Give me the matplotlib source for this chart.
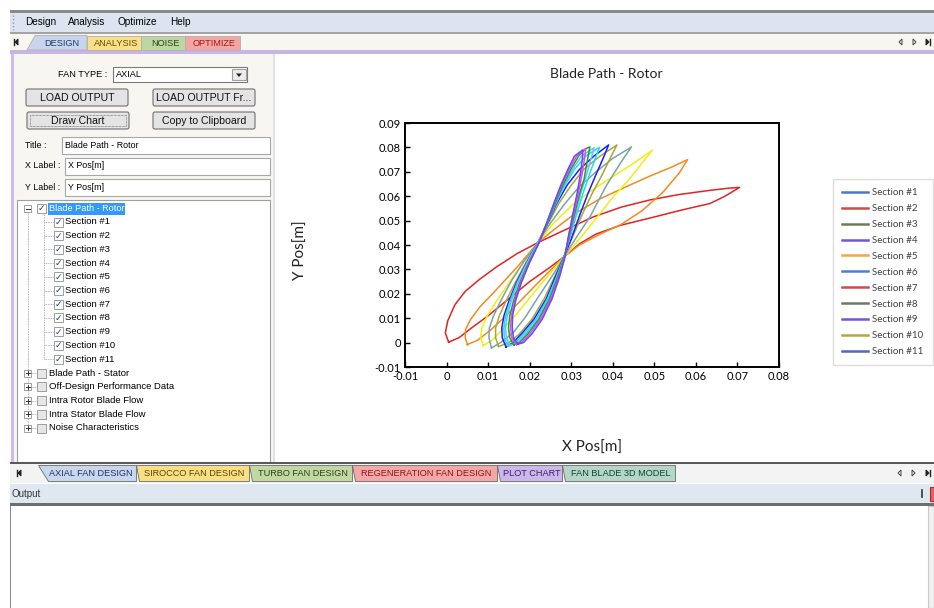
import numpy as np
import matplotlib.pyplot as plt
from matplotlib.patches import Rectangle, FancyBboxPatch, Polygon
from matplotlib.lines import Line2D

# Blade path loops, one per section (x, y in metres)
s1_x = [0.0005, -0.0003, 0.0003, 0.002, 0.0045, 0.008, 0.012, 0.017, 0.022, 0.028, 0.0353, 0.042, 0.049, 0.056, 0.0634, 0.068, 0.0705,
        0.067, 0.0634, 0.057, 0.050, 0.0417, 0.036, 0.032, 0.0285, 0.025, 0.020, 0.015, 0.010, 0.006, 0.003, 0.0005]
s1_y = [0.0002, 0.004, 0.009, 0.0155, 0.021, 0.026, 0.031, 0.0365, 0.041, 0.0458, 0.0515, 0.0555, 0.0585, 0.0607, 0.0624, 0.0633, 0.0636,
        0.0600, 0.057, 0.0545, 0.0515, 0.048, 0.0445, 0.0405, 0.0355, 0.031, 0.025, 0.018, 0.011, 0.006, 0.002, 0.0002]
s2_x = [0.005, 0.0045, 0.0046, 0.0058, 0.008, 0.0105, 0.0135, 0.017, 0.0195, 0.022, 0.026, 0.031, 0.037, 0.043, 0.049, 0.054, 0.058,
        0.056, 0.052, 0.047, 0.042, 0.037, 0.032, 0.0285, 0.0255, 0.022, 0.018, 0.014, 0.0105, 0.0075, 0.005]
s2_y = [-0.0008, 0.002, 0.0055, 0.0095, 0.0146, 0.019, 0.0245, 0.031, 0.036, 0.041, 0.0465, 0.053, 0.059, 0.0637, 0.0683, 0.0718, 0.075,
        0.0695, 0.0615, 0.054, 0.0484, 0.0445, 0.040, 0.0355, 0.0305, 0.0245, 0.0175, 0.0105, 0.005, 0.001, -0.0008]
s3_x = [0.0088, 0.0082, 0.0085, 0.0098, 0.012, 0.015, 0.0185, 0.022, 0.0255, 0.030, 0.035, 0.040, 0.045, 0.0495,
        0.047, 0.044, 0.040, 0.0365, 0.033, 0.0302, 0.0282, 0.025, 0.021, 0.017, 0.0135, 0.011, 0.0088]
s3_y = [-0.0012, 0.002, 0.006, 0.011, 0.017, 0.0245, 0.033, 0.041, 0.0485, 0.056, 0.0625, 0.068, 0.0735, 0.0788,
        0.0735, 0.067, 0.0595, 0.052, 0.0445, 0.039, 0.035, 0.0285, 0.0205, 0.012, 0.0055, 0.001, -0.0012]
s4_x = [0.0108, 0.0102, 0.0103, 0.0113, 0.013, 0.0155, 0.0185, 0.022, 0.025, 0.0285, 0.032, 0.036, 0.040, 0.0445,
        0.042, 0.0385, 0.0345, 0.031, 0.0282, 0.0255, 0.022, 0.019, 0.016, 0.013, 0.0108]
s4_y = [-0.0022, 0.002, 0.006, 0.011, 0.017, 0.025, 0.033, 0.041, 0.049, 0.057, 0.064, 0.070, 0.0755, 0.0802,
        0.074, 0.0645, 0.0515, 0.0425, 0.035, 0.0275, 0.0185, 0.0105, 0.004, 0.0, -0.0022]
s5_x = [0.0125, 0.0118, 0.0118, 0.0127, 0.0143, 0.0165, 0.019, 0.022, 0.0245, 0.027, 0.030, 0.033, 0.037, 0.041,
        0.0395, 0.0375, 0.035, 0.0325, 0.030, 0.0282, 0.026, 0.0235, 0.0205, 0.0175, 0.015, 0.0125]
s5_y = [-0.0016, 0.002, 0.006, 0.011, 0.017, 0.0245, 0.0325, 0.041, 0.049, 0.057, 0.0645, 0.071, 0.0765, 0.081,
        0.076, 0.069, 0.061, 0.052, 0.042, 0.035, 0.027, 0.018, 0.0095, 0.0035, 0.0, -0.0016]
s6_x = [0.0143, 0.0134, 0.0133, 0.0138, 0.015, 0.0168, 0.0192, 0.022, 0.0243, 0.0265, 0.029, 0.032, 0.0355, 0.039,
        0.0378, 0.036, 0.034, 0.032, 0.030, 0.0282, 0.0262, 0.024, 0.021, 0.018, 0.016, 0.0143]
s6_y = [-0.0018, 0.002, 0.006, 0.011, 0.017, 0.0245, 0.0325, 0.041, 0.049, 0.057, 0.0645, 0.071, 0.0765, 0.081,
        0.076, 0.069, 0.061, 0.052, 0.0425, 0.035, 0.027, 0.018, 0.0095, 0.0035, 0.0, -0.0018]
s7_x = [0.0148, 0.0139, 0.0138, 0.0142, 0.0153, 0.017, 0.0193, 0.022, 0.0242, 0.0263, 0.0285, 0.0308, 0.0335, 0.0368,
        0.0358, 0.0344, 0.0328, 0.0312, 0.0296, 0.0282, 0.0265, 0.0243, 0.0215, 0.0185, 0.0165, 0.0148]
s7_y = [-0.0015, 0.002, 0.006, 0.011, 0.017, 0.0245, 0.0325, 0.041, 0.049, 0.057, 0.0645, 0.071, 0.0765, 0.080,
        0.0755, 0.069, 0.061, 0.052, 0.0425, 0.035, 0.027, 0.018, 0.0095, 0.0035, 0.0, -0.0015]
s8_x = [0.0153, 0.0144, 0.0142, 0.0146, 0.0156, 0.0172, 0.0194, 0.0221, 0.0242, 0.0262, 0.0283, 0.0303, 0.0325, 0.0355,
        0.0348, 0.0337, 0.0323, 0.0309, 0.0295, 0.0283, 0.0267, 0.0246, 0.0219, 0.019, 0.017, 0.0153]
s8_y = [-0.0012, 0.002, 0.006, 0.011, 0.017, 0.0245, 0.0325, 0.041, 0.049, 0.057, 0.0645, 0.071, 0.0765, 0.0798,
        0.0755, 0.069, 0.061, 0.052, 0.0425, 0.035, 0.027, 0.018, 0.0095, 0.0035, 0.0, -0.0012]
s9_x = [0.0162, 0.0152, 0.0149, 0.0152, 0.0161, 0.0176, 0.0197, 0.0222, 0.0242, 0.0261, 0.028, 0.0299, 0.0318, 0.0335, 0.0345,
        0.0336, 0.0331, 0.032, 0.0307, 0.0294, 0.0283, 0.0268, 0.0248, 0.0222, 0.0195, 0.0175, 0.0162]
s9_y = [-0.001, 0.002, 0.006, 0.011, 0.017, 0.0245, 0.0325, 0.041, 0.049, 0.057, 0.0645, 0.071, 0.0765, 0.0795, 0.0802,
        0.072, 0.067, 0.061, 0.052, 0.0425, 0.035, 0.027, 0.018, 0.0095, 0.0035, 0.0, -0.001]
s10_x = [0.0168, 0.0157, 0.0154, 0.0156, 0.0164, 0.0178, 0.0198, 0.0222, 0.0241, 0.0259, 0.0277, 0.0295, 0.0313, 0.0335,
         0.0332, 0.0326, 0.0317, 0.0305, 0.0293, 0.0284, 0.027, 0.0251, 0.0226, 0.020, 0.018, 0.0168]
s10_y = [-0.0008, 0.002, 0.006, 0.011, 0.017, 0.0245, 0.0325, 0.041, 0.049, 0.057, 0.0645, 0.071, 0.0765, 0.0795,
         0.0755, 0.069, 0.061, 0.052, 0.0425, 0.035, 0.027, 0.018, 0.0095, 0.0035, 0.0, -0.0008]
s11_x = [0.0172, 0.0161, 0.0158, 0.0159, 0.0166, 0.018, 0.0199, 0.0223, 0.0241, 0.0258, 0.0275, 0.0292, 0.0308, 0.0328,
         0.0327, 0.0322, 0.0314, 0.0303, 0.0292, 0.0285, 0.0272, 0.0254, 0.023, 0.0205, 0.0185, 0.0172]
s11_y = [-0.0006, 0.002, 0.006, 0.011, 0.017, 0.0245, 0.0325, 0.041, 0.049, 0.057, 0.0645, 0.071, 0.0765, 0.079,
         0.0755, 0.069, 0.061, 0.052, 0.0425, 0.035, 0.027, 0.018, 0.0095, 0.0035, 0.0, -0.0006]

section_labels = ['Section #%d' % i for i in range(1, 12)]
x_ticks = [-0.01, 0, 0.01, 0.02, 0.03, 0.04, 0.05, 0.06, 0.07, 0.08]
x_tick_labels = ['-0.01', '0', '0.01', '0.02', '0.03', '0.04', '0.05', '0.06', '0.07', '0.08']
y_ticks = [-0.01, 0, 0.01, 0.02, 0.03, 0.04, 0.05, 0.06, 0.07, 0.08, 0.09]
y_tick_labels = ['-0.01', '0', '0.01', '0.02', '0.03', '0.04', '0.05', '0.06', '0.07', '0.08', '0.09']

tree_items = ['Blade Path - Stator', 'Off-Design Performance Data', 'Intra Rotor Blade Flow',
              'Intra Stator Blade Flow', 'Noise Characteristics']
top_tabs = ['DESIGN', 'ANALYSIS', 'NOISE', 'OPTIMIZE']
bottom_tabs = ['AXIAL FAN DESIGN', 'SIROCCO FAN DESIGN', 'TURBO FAN DESIGN',
               'REGENERATION FAN DESIGN', 'PLOT CHART', 'FAN BLADE 3D MODEL']

loops_x = [s1_x, s2_x, s3_x, s4_x, s5_x, s6_x, s7_x, s8_x, s9_x, s10_x, s11_x]
loops_y = [s1_y, s2_y, s3_y, s4_y, s5_y, s6_y, s7_y, s8_y, s9_y, s10_y, s11_y]

# the plot and the legend use different colours in the app
line_colors = ['#e02424', '#f28a22', '#f2ee10', '#78a4aa', '#a8a838', '#1c1cff',
               '#10e4f8', '#7ab8f4', '#10a828', '#f040f0', '#5a50f0']
legend_colors = ['#4a78d0', '#d04a4a', '#6e7a5e', '#7058d6', '#f2a83a', '#4e7ed0',
                 '#d04c4c', '#6e7a5e', '#7058d6', '#b8a83a', '#5468b8']

UI = 'Liberation Sans'
W, H = 934, 608
fig = plt.figure(figsize=(W / 100, H / 100), dpi=100)
gui = fig.add_axes([0, 0, 1, 1])
gui.set_xlim(0, W)
gui.set_ylim(H, 0)
gui.axis('off')


def box(x0, y0, x1, y1, fc, ec='none', lw=0.8, z=1):
    gui.add_patch(Rectangle((x0, y0), x1 - x0, y1 - y0, facecolor=fc, edgecolor=ec, linewidth=lw, zorder=z))


def label(x, y, s, size=7, color='black', ha='left', family=UI, **kw):
    gui.text(x, y, s, fontsize=size, color=color, ha=ha, va='center', family=family, zorder=5, **kw)


def button(x0, y0, x1, y1, s, focus=False):
    gui.add_patch(FancyBboxPatch((x0, y0), x1 - x0, y1 - y0, boxstyle='round,pad=0,rounding_size=2',
                                 facecolor='#e4e4e4', edgecolor='#707070', linewidth=0.8, zorder=2))
    if focus:
        gui.add_patch(Rectangle((x0 + 3, y0 + 3), x1 - x0 - 6, y1 - y0 - 6, facecolor='none',
                                edgecolor='#555555', linewidth=0.5, linestyle=(0, (1, 1)), zorder=3))
    label((x0 + x1) / 2, (y0 + y1) / 2 + 0.5, s, size=7.6, ha='center', color='#111111')


# window frame, menu and top tabs
box(10, 10, W, 13, '#8a8a8a')
box(10, 13, W, 32, '#dde4ef')
box(10, 32, W, 33.5, '#a4a4a4')
box(10, 33.5, W, 50, '#f7f6f1')
box(10, 50, W, 53.5, '#c7b5e6')
for xm, s in zip([25, 68, 117, 170], ['Design', 'Analysis', 'Optimize', 'Help']):
    label(xm, 22, s, size=7.2)
gui.plot([13, 13], [15, 30], color='#9a9a9a', lw=1, ls=(0, (1, 1.5)), zorder=3)

tab_x = [(33, 87), (87, 141), (141, 185), (185, 240)]
tab_fc = ['#c9d5ec', '#f8df88', '#bcd6a4', '#f2a6a6']
tab_tc = ['#1e3a6c', '#6a4800', '#2a4812', '#a21a1a']
for (a, b), s, fc, tc in zip(tab_x, top_tabs, tab_fc, tab_tc):
    pts = [(a - 6, 50), (a + 2, 35.5), (b, 35.5), (b, 50)] if s == 'DESIGN' else [(a, 50), (a, 36), (b, 36), (b, 50)]
    gui.add_patch(Polygon(pts, closed=True, facecolor=fc, edgecolor='#b0b0b0', lw=0.6, zorder=2))
    label((a + b) / 2 + 2, 43, s, size=6.6, ha='center', color=tc)


def nav_icons(y, xs):
    gui.add_patch(Polygon([(xs[0] + 3, y - 3), (xs[0] + 3, y + 3), (xs[0], y)], closed=True,
                          facecolor='none', edgecolor='#444444', lw=0.7, zorder=3))
    gui.add_patch(Polygon([(xs[1], y - 3), (xs[1], y + 3), (xs[1] + 3, y)], closed=True,
                          facecolor='none', edgecolor='#444444', lw=0.7, zorder=3))
    gui.add_patch(Polygon([(xs[2], y - 3), (xs[2], y + 3), (xs[2] + 3, y)], closed=True,
                          facecolor='#222222', edgecolor='#222222', lw=0.7, zorder=3))
    gui.plot([xs[2] + 4, xs[2] + 4], [y - 3, y + 3], color='#222222', lw=1, zorder=3)


def first_icon(x, y):
    gui.plot([x, x], [y - 3, y + 3], color='#222222', lw=1, zorder=3)
    gui.add_patch(Polygon([(x + 4, y - 3), (x + 4, y + 3), (x + 1, y)], closed=True,
                          facecolor='#222222', edgecolor='#222222', lw=0.7, zorder=3))


first_icon(14, 42)
nav_icons(42, [899, 913, 926])

# main area
box(11, 53.5, 273, 462, '#f8f6f0')
box(11, 53.5, 14, 462, '#cdbdea')
box(273, 53.5, 275, 462, '#e2e2e2')
box(275, 53.5, W, 462, 'white')

label(107, 74.5, 'FAN TYPE :', size=6.6, ha='right')
box(113, 67, 247, 82, 'white', ec='#7a7a7a')
label(116, 74.5, 'AXIAL', size=6.6)
box(232, 69, 245.5, 80, '#ececec', ec='#a0a0a0')
gui.add_patch(Polygon([(236, 73.5), (242, 73.5), (239, 77)], closed=True, facecolor='#222222', zorder=4))

button(26, 89, 128, 106, 'LOAD OUTPUT')
button(153, 89, 255, 106, 'LOAD OUTPUT Fr...')
button(27, 112, 129, 129, 'Draw Chart', focus=True)
button(153, 112, 255, 129, 'Copy to Clipboard')

for yy, lab, x0, val in [(145.5, 'Title :', 62, 'Blade Path - Rotor'),
                         (166, 'X Label :', 65, 'X Pos[m]'),
                         (187, 'Y Label :', 65, 'Y Pos[m]')]:
    label(25, yy, lab, size=6.4)
    box(x0, yy - 8.5, 270, yy + 8.5, 'white', ec='#a8a8a8')
    label(x0 + 3, yy, val, size=6.4)

# tree view
box(17, 200, 270, 462, 'white', ec='#a0a0a0')


def check(x, y, on=True):
    box(x, y - 4.5, x + 9, y + 4.5, 'white' if on else '#e6e6e6', ec='#8e8e8e', lw=0.6, z=3)
    if on:
        gui.text(x + 4.5, y + 0.3, '\u2713', fontsize=6.5, color='#1c3c9c', ha='center', va='center',
                 family='DejaVu Sans', fontweight='bold', zorder=5)


def expander(x, y, plus):
    box(x, y - 3.5, x + 7, y + 3.5, 'white', ec='#909090', lw=0.6, z=3)
    gui.plot([x + 1.5, x + 5.5], [y, y], color='#333333', lw=0.7, zorder=4)
    if plus:
        gui.plot([x + 3.5, x + 3.5], [y - 2, y + 2], color='#333333', lw=0.7, zorder=4)


dots = dict(color='#9a9a9a', lw=0.6, ls=(0, (1, 1)), zorder=2)
gui.plot([27.5, 27.5], [212, 428], **dots)
gui.plot([44, 44], [213, 359], **dots)
expander(24, 208.5, False)
check(37, 208.5)
box(47.5, 202.5, 125, 214.5, '#3399ff', z=2)
label(49, 208.5, 'Blade Path - Rotor', size=6.6, color='white')
for i, s in enumerate(section_labels):
    yy = 222 + i * 13.7
    gui.plot([44, 54], [yy, yy], **dots)
    check(54, yy)
    label(65, yy, s, size=6.8)
for i, s in enumerate(tree_items):
    yy = 373 + i * 13.75
    gui.plot([27.5, 37], [yy, yy], **dots)
    expander(24, yy, True)
    check(37, yy, on=False)
    label(49, yy, s, size=6.8)

# bottom tab strip and output pane
box(10, 462, W, 464, '#5a5a5a')
box(10, 464, W, 483, '#f3f3f3')
btab_x = [(42, 136), (136, 249), (249, 352), (352, 497), (497, 562), (562, 675)]
btab_fc = ['#c9d6ee', '#f9df84', '#c2d8a4', '#f3a8a8', '#cbb8ea', '#b4d6c6']
btab_tc = ['#1e3466', '#5e4400', '#2a4612', '#8e1414', '#3e1e66', '#0e4434']
for (a, b), s, fc, tc in zip(btab_x, bottom_tabs, btab_fc, btab_tc):
    pts = [(a - 4, 465), (b, 465), (b, 481), (a + 6, 481)] if s == 'AXIAL FAN DESIGN' else [(a, 465), (b, 465), (b, 481), (a + 3, 481)]
    gui.add_patch(Polygon(pts, closed=True, facecolor=fc, edgecolor='#6a6a6a', lw=0.6, zorder=2))
    label((a + b) / 2 + 2, 473, s, size=6.6, ha='center', color=tc)
first_icon(17, 473)
nav_icons(473, [898, 912, 926])

box(10, 484, W, 503, '#dfe7f1')
label(12, 494, 'Output', size=7, color='#333333')
gui.plot([922, 922], [490, 497], color='#333333', lw=1.2, zorder=4)
box(930, 487, W, 501, '#e86060', ec='#a03030')
box(10, 503, W, 505.5, '#6e6e6e')
box(10, 505.5, 928, H, 'white')
box(10, 505.5, 11, H, '#8a8a8a')
box(928, 505.5, W, H, '#f0f0f0', ec='#c8c8c8')

# chart
ax = fig.add_axes([405 / W, (H - 367) / H, 374 / W, 244 / H], zorder=3)
for lx, ly, c in zip(loops_x, loops_y, line_colors):
    ax.plot(lx, ly, color=c, lw=1.1)
ax.set_xlim(-0.01, 0.08)
ax.set_ylim(-0.01, 0.09)
ax.set_xticks(x_ticks)
ax.set_xticklabels(x_tick_labels)
ax.set_yticks(y_ticks)
ax.set_yticklabels(y_tick_labels)
ax.tick_params(direction='in', length=3.5, width=1, pad=3, labelsize=8)
for t in ax.get_xticklabels() + ax.get_yticklabels():
    t.set_family('Lato')
for sp in ax.spines.values():
    sp.set_linewidth(1.4)
ax.set_title('Blade Path - Rotor', family='Lato', fontsize=10, color='#222222',
             x=0.537, y=1.2, va='center', pad=0)
ax.set_xlabel('X Pos[m]', family='Lato', fontsize=11, color='#222222')
ax.xaxis.set_label_coords(0.5, -0.303)
ax.set_ylabel('Y Pos[m]', family='Lato', fontsize=11, color='#222222', va='center')
ax.yaxis.set_label_coords(-0.278, 0.48)

handles = [Line2D([0], [0], color=c, lw=1.8) for c in legend_colors]
leg = fig.legend(handles, section_labels, loc='upper left', bbox_to_anchor=(833 / W, 1 - 179 / H),
                 frameon=True, fancybox=False, edgecolor='#d6d6d6', handlelength=2.6,
                 handletextpad=0.5, labelspacing=0.71, borderpad=0.95, borderaxespad=0,
                 prop={'family': 'Lato', 'size': 7})
for t in leg.get_texts():
    t.set_color('#404040')

fig.savefig('out.png', dpi=100)
